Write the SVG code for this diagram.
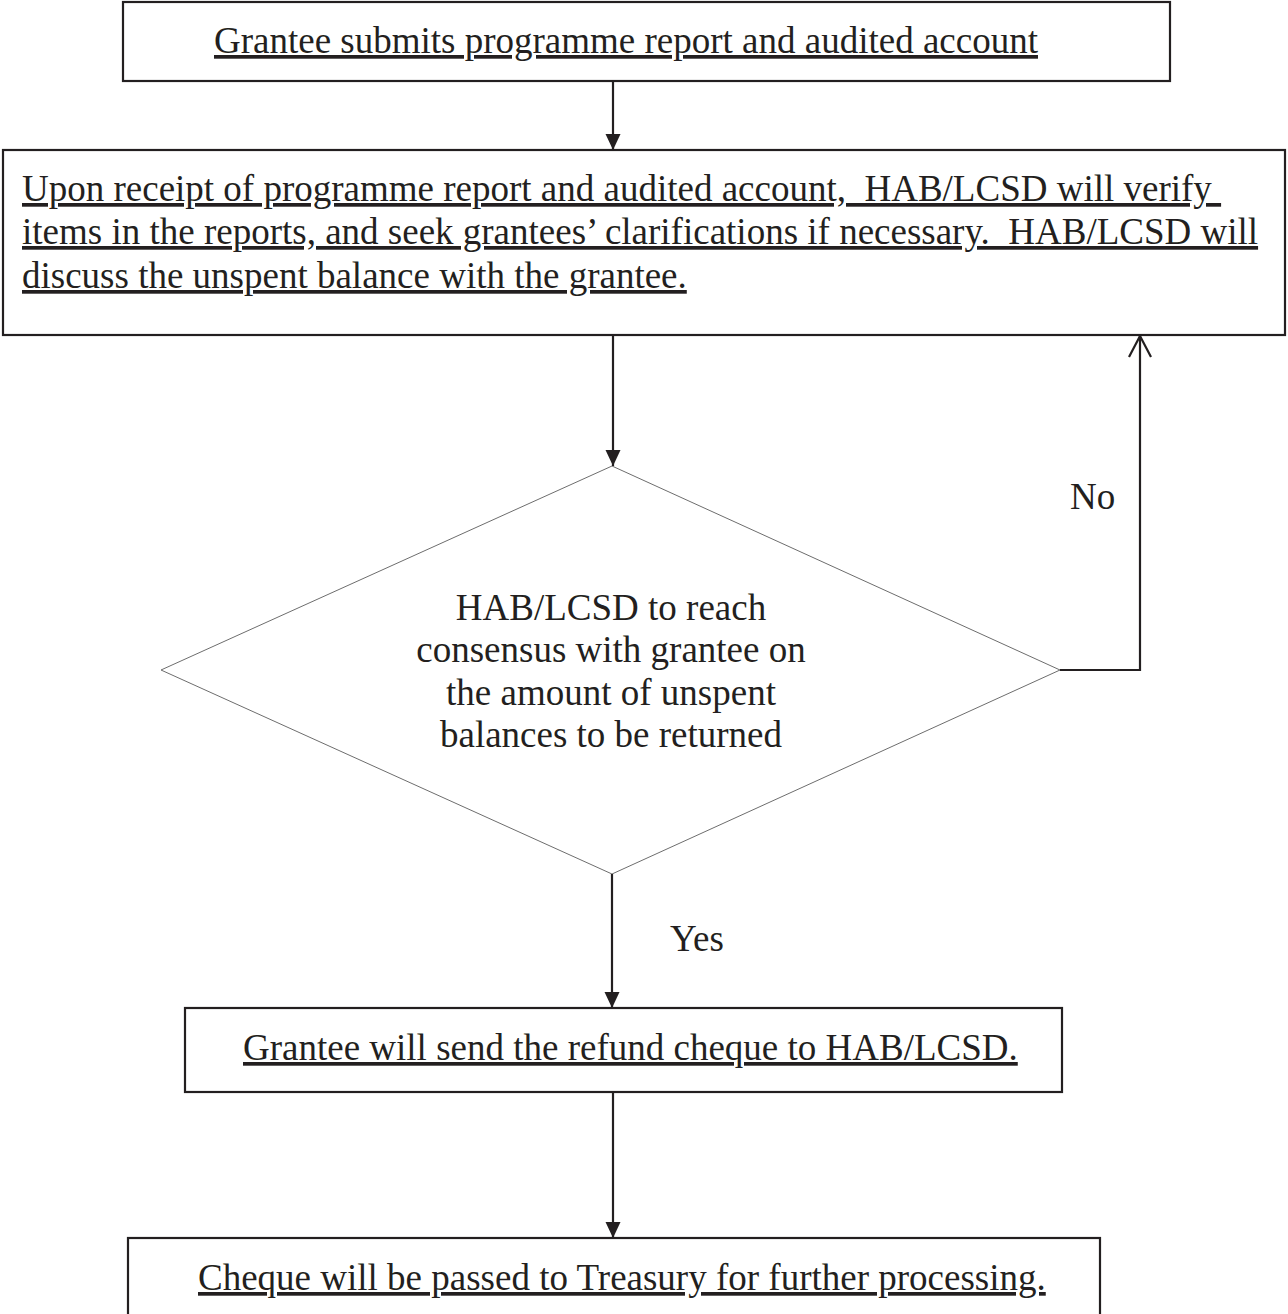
<svg xmlns="http://www.w3.org/2000/svg" width="1288" height="1314" viewBox="0 0 1288 1314">
<style>
.box{fill:#fff;stroke:#231f20;stroke-width:2.2}
.dia{fill:#fff;stroke:#6d6d6d;stroke-width:1}
.t{font-family:"Liberation Serif","Times New Roman",serif;font-size:37px;fill:#231f20;white-space:pre}
.u{text-decoration:underline}
.c{text-anchor:middle}
.edge{fill:none;stroke:#231f20;stroke-width:2.2}
</style>
<defs>
<marker id="fa" markerUnits="userSpaceOnUse" markerWidth="16" markerHeight="16" viewBox="0 0 16 16" refX="16" refY="8" orient="auto">
<path d="M0,0.5 L16,8 L0,15.5 z" fill="#231f20"/>
</marker>
<marker id="oa" markerUnits="userSpaceOnUse" markerWidth="24" markerHeight="26" viewBox="0 0 24 26" refX="22" refY="13" orient="auto">
<path d="M1,2 L22,13 L1,24" fill="none" stroke="#231f20" stroke-width="2.2"/>
</marker>
</defs>
<rect width="1288" height="1314" fill="#fff"/>
<g id="n1">
<rect class="box" x="123" y="2" width="1047" height="79"/>
<text class="t u" x="214" y="53">Grantee submits programme report and audited account</text>
</g>
<g id="n2">
<rect class="box" x="3" y="150" width="1282" height="185"/>
<text class="t u" x="22" y="201">Upon receipt of programme report and audited account,  HAB/LCSD will verify </text>
<text class="t u" x="22" y="244">items in the reports, and seek grantees’ clarifications if necessary.  HAB/LCSD will</text>
<text class="t u" x="22" y="288">discuss the unspent balance with the grantee.</text>
</g>
<g id="n3">
<polygon class="dia" points="612,466 1060,670 612,874 161,670"/>
<text class="t c" x="611" y="620">HAB/LCSD to reach</text>
<text class="t c" x="611" y="662">consensus with grantee on</text>
<text class="t c" x="611" y="705">the amount of unspent</text>
<text class="t c" x="611" y="747">balances to be returned</text>
</g>
<g id="n4">
<rect class="box" x="185" y="1008" width="877" height="84"/>
<text class="t u" x="243" y="1060">Grantee will send the refund cheque to HAB/LCSD.</text>
</g>
<g id="n5">
<rect class="box" x="128" y="1238" width="972" height="90"/>
<text class="t u" x="198" y="1290">Cheque will be passed to Treasury for further processing.</text>
</g>
<g id="edges">
<line class="edge" x1="613" y1="81" x2="613" y2="150" marker-end="url(#fa)"/>
<line class="edge" x1="613" y1="335" x2="613" y2="466" marker-end="url(#fa)"/>
<polyline class="edge" points="1060,670 1140,670 1140,336" marker-end="url(#oa)"/>
<line class="edge" x1="612" y1="874" x2="612" y2="1008" marker-end="url(#fa)"/>
<line class="edge" x1="613" y1="1092" x2="613" y2="1238" marker-end="url(#fa)"/>
<text class="t" x="1070" y="509">No</text>
<text class="t" x="670" y="951">Yes</text>
</g>
</svg>
